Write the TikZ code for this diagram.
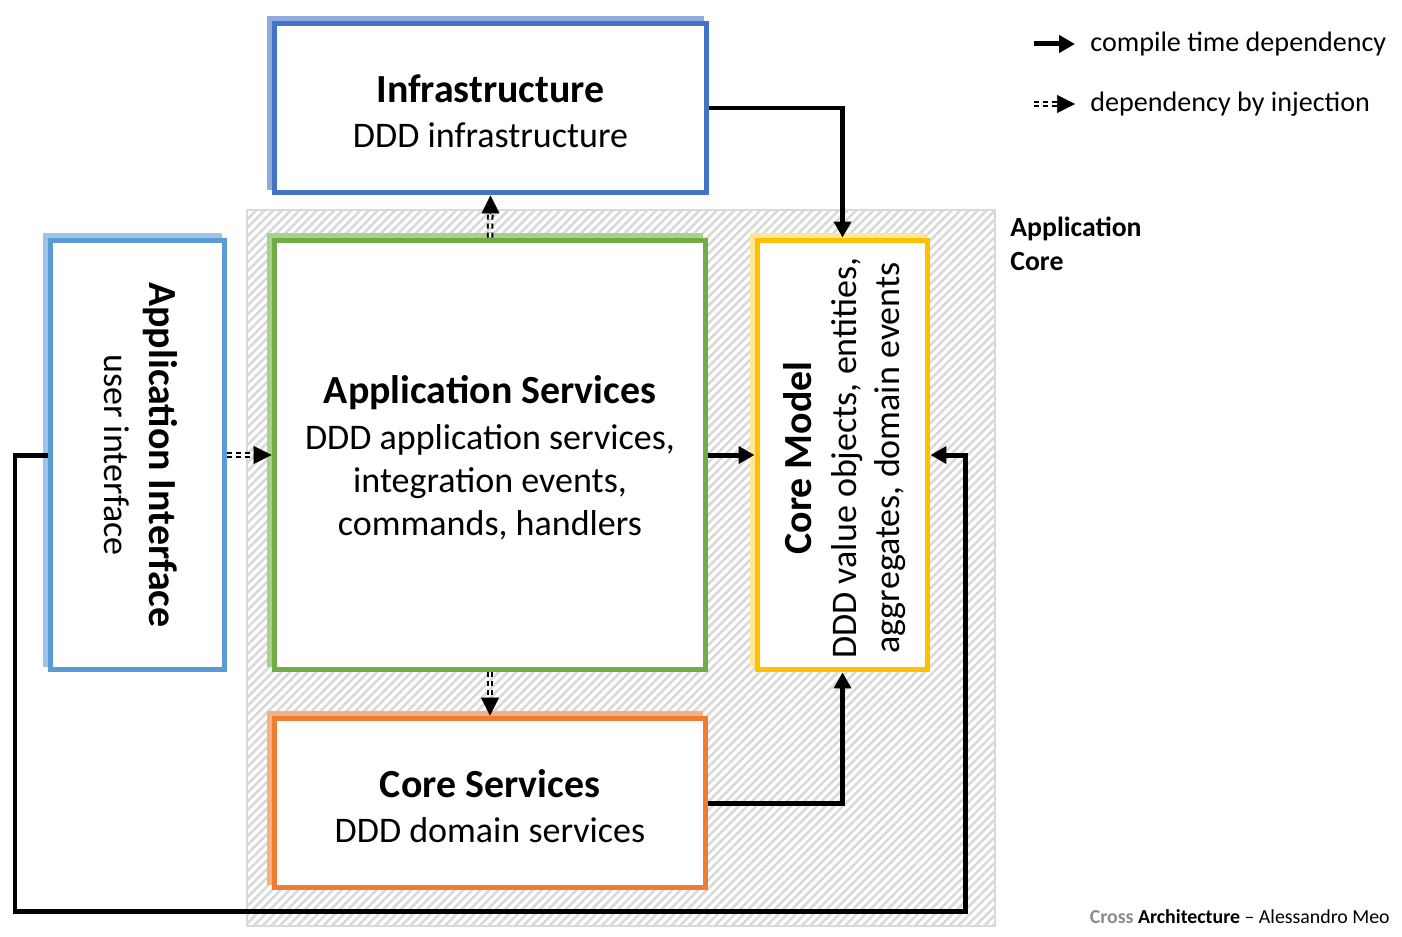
\documentclass[tikz,border=0pt]{standalone}
\usepackage{fontspec}
\setmainfont{Carlito}
\usetikzlibrary{arrows.meta,patterns.meta,shadows}
\definecolor{infc}{HTML}{4472C4}\definecolor{infs}{HTML}{8FAADC}
\definecolor{aic}{HTML}{5B9BD5}\definecolor{ais}{HTML}{9DC3E6}
\definecolor{asc}{HTML}{70AD47}\definecolor{ass}{HTML}{A9D18E}
\definecolor{cmc}{HTML}{FFC000}\definecolor{cms}{HTML}{FFE699}
\definecolor{csc}{HTML}{ED7D31}\definecolor{css}{HTML}{F4B183}
\definecolor{hatchc}{HTML}{D9D9D9}
\definecolor{footgray}{HTML}{8C8C8C}
\newcommand\boxtitle[1]{{\fontsize{22.7}{27}\selectfont\bfseries #1}}
\tikzset{
  box/.style args={#1/#2}{draw=#1, line width=0.1cm, fill=white, align=center, inner sep=0pt,
    general shadow={fill=#2, draw=#2, line width=0.1cm, shadow xshift=-0.1cm, shadow yshift=0.1cm}},
  bigtext/.style={font=\fontsize{20.5}{24.5}\selectfont, align=center},
  corearea/.style={draw=hatchc, line width=0.7pt, pattern={Lines[angle=45,distance=3.5pt,line width=1.5pt]}, pattern color=hatchc, inner sep=0pt},
  dep/.style={line width=0.1cm, -{Triangle[length=0.32cm,width=0.34cm]}},
  inj/.style={line width=0.04cm, double distance=0.05cm, dash pattern=on 0.1cm off 0.08cm},
  injhead/.style={line width=0.3pt, -{Triangle[length=0.36cm,width=0.36cm]}},
  legtext/.style={font=\fontsize{16}{19}\selectfont, anchor=west, inner sep=0pt},
}
\begin{document}
\begin{tikzpicture}[x=0.02cm, y=-0.02cm]
\useasboundingbox (0,0) rectangle (1402,936);
% application core area
\node[corearea, minimum width=14.96cm, minimum height=14.32cm] (core) at (621,568) {};
\node[font=\fontsize{15.8}{19.3}\selectfont\bfseries, align=left, anchor=west, inner sep=0pt] (corelbl) at (1010,244) {Application\\Core};
% boxes
\node[box=infc/infs, minimum width=8.64cm, minimum height=3.4cm, bigtext] (inf) at (490.5,108) {\raisebox{0pt}{}\\[-0.18cm]\boxtitle{Infrastructure}\\[1.5pt]DDD infrastructure};
\node[box=asc/ass, minimum width=8.64cm, minimum height=8.6cm, bigtext] (as) at (490,455) {\raisebox{0pt}{}\\[-0.2cm]\boxtitle{Application Services}\\[1.5pt]DDD application services,\\integration events,\\commands, handlers};
\node[box=aic/ais, minimum width=3.5cm, minimum height=8.6cm] (ai) at (137.5,455) {};
\node[bigtext, rotate=-90] (aitxt) at (141,455) {\boxtitle{Application Interface}\\[1pt]user interface};
\node[box=cmc/cms, minimum width=3.42cm, minimum height=8.6cm] (cm) at (842.5,455) {};
\node[bigtext, rotate=90] (cmtxt) at (845,458) {\boxtitle{Core Model}\\[1pt]DDD value objects, entities,\\aggregates, domain events};
\node[box=csc/css, minimum width=8.64cm, minimum height=3.4cm, bigtext] (cs) at (490,803) {\raisebox{0pt}{}\\[-0.18cm]\boxtitle{Core Services}\\[1.5pt]DDD domain services};
% compile time dependencies
\draw[dep] (inf.east) -| (cm.north);
\draw[dep] (as.east) -- (cm.west);
\draw[dep] (cs.east) -| (cm.south);
\coordinate (c1) at (15,911);
\coordinate (c2) at (965,911);
\draw[dep] (ai.west) -| (c1) -- (c2) |- (cm.east);
% injection dependencies
\draw[inj, shorten >=0.34cm] (ai.east) -- (as.west);
\draw[injhead] ([xshift=-0.36cm]as.west) -- (as.west);
\draw[inj, shorten >=0.34cm] (as.north) -- (inf.south);
\draw[injhead] ([yshift=-0.36cm]inf.south) -- (inf.south);
\draw[inj, shorten >=0.34cm] (as.south) -- (cs.north);
\draw[injhead] ([yshift=0.36cm]cs.north) -- (cs.north);
% legend
\coordinate (l1a) at (1034,44);
\coordinate (l1b) at (1075,44);
\draw[dep] (l1a) -- (l1b);
\node[legtext] (l1t) at (1090,44) {compile time dependency};
\coordinate (l2a) at (1034,104);
\coordinate (l2b) at (1075,104);
\draw[inj, shorten >=0.34cm] (l2a) -- (l2b);
\draw[injhead] ([xshift=-0.36cm]l2b) -- (l2b);
\node[legtext] (l2t) at (1090,104) {dependency by injection};
% footer
\node[font=\fontsize{11.3}{13}\selectfont, anchor=east, inner sep=0pt] (foot) at (1390,917) {\textcolor{footgray}{\textbf{Cross}} \textbf{Architecture} -- Alessandro Meo};
\end{tikzpicture}
\end{document}
